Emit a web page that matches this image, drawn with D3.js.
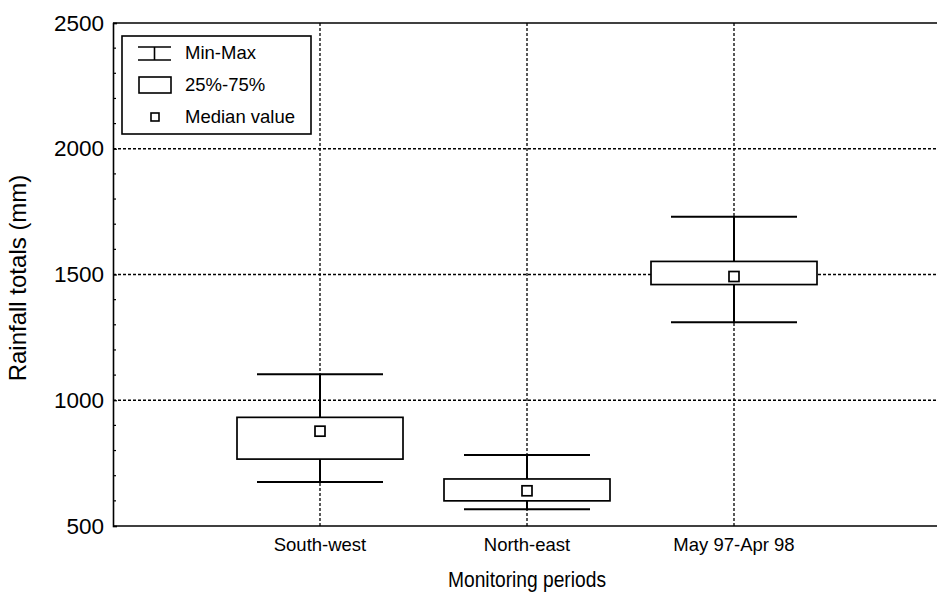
<!DOCTYPE html>
<html>
<head>
<meta charset="utf-8">
<script src="https://cdn.jsdelivr.net/npm/d3@7"></script>
<style>
  html, body { margin: 0; padding: 0; background: #fff; }
  svg { display: block; font-family: "Liberation Sans", Arial, Helvetica, sans-serif; }
</style>
</head>
<body>
<svg id="chart" width="937" height="594"></svg>
<script>
// Rainfall totals (mm) per monitoring period
const periods = ["South-west", "North-east", "May 97-Apr 98"];
const minVals = [675, 567, 1310];
const q25Vals = [766, 600, 1460];
const medianVals = [877, 640, 1492];
const q75Vals = [932, 687, 1552];
const maxVals = [1103, 782, 1730];

const yTicks = [500, 1000, 1500, 2000, 2500];
const legendLabels = ["Min-Max", "25%-75%", "Median value"];

(function () {
const svg = d3.select("#chart");
const plotL = 113, plotR = 941, plotT = 23, plotB = 526;

const x = d3.scaleLinear().domain([0, periods.length + 1]).range([plotL, plotR]);
const y = d3.scaleLinear().domain([500, 2500]).range([plotB, plotT]);

const dash = "3,2";
const boxHalf = 83, capHalf = 63;

// horizontal grid lines
svg.append("g").selectAll("line")
  .data(yTicks.filter(t => t > 500 && t < 2500))
  .join("line")
  .attr("x1", plotL).attr("x2", plotR)
  .attr("y1", d => y(d)).attr("y2", d => y(d))
  .attr("stroke", "#000").attr("stroke-width", 1.3).attr("stroke-dasharray", dash);

// vertical grid lines at each period
svg.append("g").selectAll("line")
  .data(periods)
  .join("line")
  .attr("x1", (d, i) => x(i + 1)).attr("x2", (d, i) => x(i + 1))
  .attr("y1", plotT).attr("y2", plotB)
  .attr("stroke", "#000").attr("stroke-width", 1.3).attr("stroke-dasharray", dash);

// plot frame: top and bottom
svg.append("line").attr("x1", plotL).attr("x2", plotR).attr("y1", plotT).attr("y2", plotT)
  .attr("stroke", "#000").attr("stroke-width", 1.6);
svg.append("line").attr("x1", plotL).attr("x2", plotR).attr("y1", plotB).attr("y2", plotB)
  .attr("stroke", "#000").attr("stroke-width", 1.6);

// left axis with inward ticks
const yAxis = d3.axisLeft(y).tickValues(yTicks).tickSize(-4).tickPadding(9).tickFormat(d3.format("d"));
const gy = svg.append("g").attr("transform", `translate(${plotL},0)`).call(yAxis);
gy.select(".domain").attr("stroke-width", 1.6);
gy.selectAll(".tick line").attr("stroke-width", 1.2);
gy.selectAll("text").attr("font-size", 22.5).attr("fill", "#000")
  .attr("font-family", "'Liberation Sans', Arial, sans-serif");

// minor ticks every 100 mm
svg.append("g").selectAll("line")
  .data(d3.range(600, 2500, 100).filter(v => v % 500 !== 0))
  .join("line")
  .attr("x1", plotL).attr("x2", plotL + 3)
  .attr("y1", d => y(d)).attr("y2", d => y(d))
  .attr("stroke", "#000").attr("stroke-width", 1.2);

// category labels
svg.append("g").selectAll("text")
  .data(periods)
  .join("text")
  .attr("x", (d, i) => x(i + 1)).attr("y", 551)
  .attr("text-anchor", "middle").attr("font-size", 18.5)
  .text(d => d);

// axis titles
svg.append("text").attr("x", 527).attr("y", 587)
  .attr("text-anchor", "middle").attr("font-size", 21.5)
  .attr("textLength", 158).attr("lengthAdjust", "spacingAndGlyphs")
  .text("Monitoring periods");
svg.append("text")
  .attr("transform", `translate(26,278) rotate(-90)`)
  .attr("text-anchor", "middle").attr("font-size", 24).text("Rainfall totals (mm)");

// box plots
const boxes = svg.append("g").selectAll("g")
  .data(periods.map((p, i) => ({ p, i, min: minVals[i], q25: q25Vals[i], med: medianVals[i], q75: q75Vals[i], max: maxVals[i] })))
  .join("g");

boxes.append("line") // whisker stem
  .attr("x1", d => x(d.i + 1)).attr("x2", d => x(d.i + 1))
  .attr("y1", d => y(d.max)).attr("y2", d => y(d.min))
  .attr("stroke", "#000").attr("stroke-width", 2);
boxes.append("line")
  .attr("x1", d => x(d.i + 1) - capHalf).attr("x2", d => x(d.i + 1) + capHalf)
  .attr("y1", d => y(d.max)).attr("y2", d => y(d.max))
  .attr("stroke", "#000").attr("stroke-width", 2);
boxes.append("line")
  .attr("x1", d => x(d.i + 1) - capHalf).attr("x2", d => x(d.i + 1) + capHalf)
  .attr("y1", d => y(d.min)).attr("y2", d => y(d.min))
  .attr("stroke", "#000").attr("stroke-width", 2);
boxes.append("rect")
  .attr("x", d => x(d.i + 1) - boxHalf).attr("width", boxHalf * 2)
  .attr("y", d => y(d.q75)).attr("height", d => y(d.q25) - y(d.q75))
  .attr("fill", "#fff").attr("stroke", "#000").attr("stroke-width", 1.7);
boxes.append("rect")
  .attr("x", d => x(d.i + 1) - 5).attr("width", 10)
  .attr("y", d => y(d.med) - 5).attr("height", 10)
  .attr("fill", "#fff").attr("stroke", "#000").attr("stroke-width", 1.7);

// legend
const lg = svg.append("g");
lg.append("rect").attr("x", 122).attr("y", 36).attr("width", 189).attr("height", 98)
  .attr("fill", "#fff").attr("stroke", "#000").attr("stroke-width", 1.6);
// min-max symbol
lg.append("line").attr("x1", 138).attr("x2", 171).attr("y1", 47).attr("y2", 47).attr("stroke", "#000").attr("stroke-width", 1.6);
lg.append("line").attr("x1", 138).attr("x2", 171).attr("y1", 60).attr("y2", 60).attr("stroke", "#000").attr("stroke-width", 1.6);
lg.append("line").attr("x1", 154.5).attr("x2", 154.5).attr("y1", 47).attr("y2", 60).attr("stroke", "#000").attr("stroke-width", 1.6);
// box symbol
lg.append("rect").attr("x", 139).attr("y", 77).attr("width", 32).attr("height", 16)
  .attr("fill", "#fff").attr("stroke", "#000").attr("stroke-width", 1.6);
// median symbol
lg.append("rect").attr("x", 151).attr("y", 113).attr("width", 8).attr("height", 8)
  .attr("fill", "#fff").attr("stroke", "#000").attr("stroke-width", 1.6);
lg.selectAll("text.lab")
  .data(legendLabels)
  .join("text").attr("class", "lab")
  .attr("x", 185).attr("y", (d, i) => 59 + i * 32)
  .attr("font-size", 18.5).text(d => d);
})();
</script>
</body>
</html>
